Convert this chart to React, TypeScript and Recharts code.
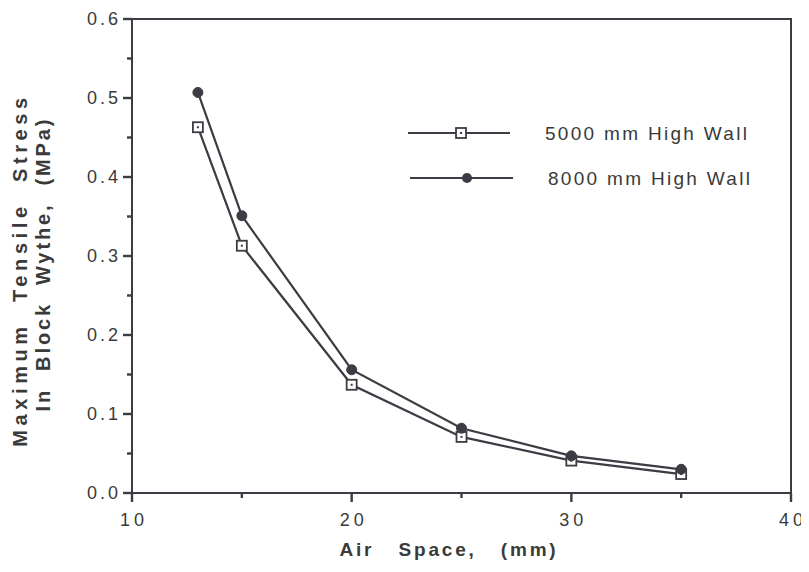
import React from "react";
import { LineChart, Line, XAxis, YAxis, ReferenceArea } from "recharts";

const airSpace = [13, 15, 20, 25, 30, 35];
const stress5000 = [0.463, 0.313, 0.137, 0.071, 0.041, 0.024];
const stress8000 = [0.507, 0.351, 0.156, 0.082, 0.047, 0.03];
const xTicks = [10, 15, 20, 25, 30, 35, 40];
const xMajor = [10, 20, 30, 40];
const yTicks = [0, 0.05, 0.1, 0.15, 0.2, 0.25, 0.3, 0.35, 0.4, 0.45, 0.5, 0.55, 0.6];
const yMajor = [0, 0.1, 0.2, 0.3, 0.4, 0.5, 0.6];
const seriesNames = ["5000 mm High Wall", "8000 mm High Wall"];

const data = airSpace.map((x, i) => ({ x, a: stress5000[i], b: stress8000[i] }));

const INK = "#3c3c44";
const TXT = "#3a3a3a";
const FONT = "'Liberation Sans', Arial, Helvetica, sans-serif";

const isMajor = (arr: number[], v: number) => arr.some((m) => Math.abs(m - v) < 1e-6);

const XTick = (props: any) => {
  const { x, y, payload } = props;
  const nx = Number(x);
  const ny = Number(y);
  const major = isMajor(xMajor, payload.value);
  const len = major ? 9 : 5;
  return (
    <g>
      <rect x={nx - 1.2} y={ny} width={2.4} height={len} fill={INK} />
      {major && (
        <text x={nx + 2} y={ny + 33} textAnchor="middle" fontSize={18} letterSpacing={4} fill={TXT} fontFamily={FONT}>
          {String(payload.value)}
        </text>
      )}
    </g>
  );
};

const YTick = (props: any) => {
  const { x, y, payload } = props;
  const nx = Number(x);
  const ny = Number(y);
  const major = isMajor(yMajor, payload.value);
  const len = major ? 9 : 5;
  return (
    <g>
      <rect x={nx - len} y={ny - 1.2} width={len} height={2.4} fill={INK} />
      {major && (
        <text x={nx - 11} y={ny + 6} textAnchor="end" fontSize={18} letterSpacing={3} fill={TXT} fontFamily={FONT}>
          {Number(payload.value).toFixed(1)}
        </text>
      )}
    </g>
  );
};

const SquareDot = (props: any) => {
  const { cx, cy } = props;
  if (cx == null || cy == null) return null;
  return (
    <g>
      <rect x={cx - 5} y={cy - 5} width={10} height={10} fill="#fff" stroke={INK} strokeWidth={1.8} />
      <rect x={cx - 1} y={cy - 1} width={2} height={2} fill={INK} />
    </g>
  );
};

const FilledDot = (props: any) => {
  const { cx, cy } = props;
  if (cx == null || cy == null) return null;
  return <circle cx={cx} cy={cy} r={5} fill={INK} stroke={INK} />;
};

const titleStyle: React.CSSProperties = { whiteSpace: "pre" };

export default function App() {
  return (
    <div style={{ position: "relative", width: 801, height: 564 }}>
      <LineChart width={801} height={564} data={data} margin={{ top: 11, right: 18, left: 64, bottom: 34 }}>
        <XAxis
          dataKey="x"
          type="number"
          domain={[10, 40]}
          ticks={xTicks}
          interval={0}
          height={45}
          tickSize={0}
          tickMargin={0}
          tickLine={false}
          axisLine={{ stroke: INK, strokeWidth: 2 }}
          tick={<XTick />}
        />
        <YAxis
          type="number"
          domain={[0, 0.6]}
          ticks={yTicks}
          interval={0}
          width={60}
          tickSize={0}
          tickMargin={0}
          tickLine={false}
          axisLine={{ stroke: INK, strokeWidth: 2 }}
          tick={<YTick />}
        />
        <ReferenceArea x1={10} x2={40} y1={0} y2={0.6} fill="none" stroke={INK} strokeWidth={2} ifOverflow="visible" />
        <Line type="linear" dataKey="a" name={seriesNames[0]} stroke={INK} strokeWidth={2.2} dot={<SquareDot />} isAnimationActive={false} />
        <Line type="linear" dataKey="b" name={seriesNames[1]} stroke={INK} strokeWidth={2.2} dot={<FilledDot />} isAnimationActive={false} />
      </LineChart>
      <svg width={801} height={564} style={{ position: "absolute", left: 0, top: 0, pointerEvents: "none" }}>
        <text x={12} y={262} transform="rotate(-90 12 262)" textAnchor="middle" dominantBaseline="central" fontSize={20} fontWeight="bold" letterSpacing={4.6} fill={TXT} fontFamily={FONT} style={titleStyle}>
          {"Maximum  Tensile  Stress"}
        </text>
        <text x={35} y={256} transform="rotate(-90 35 256)" textAnchor="middle" dominantBaseline="central" fontSize={20} fontWeight="bold" letterSpacing={2.9} fill={TXT} fontFamily={FONT} style={titleStyle}>
          {"In  Block  Wythe,  (MPa)"}
        </text>
        <text x={441} y={541} textAnchor="middle" dominantBaseline="central" fontSize={19} fontWeight="bold" letterSpacing={2.8} fill={TXT} fontFamily={FONT} style={titleStyle}>
          {"Air   Space,   (mm)"}
        </text>
        <line x1={400} x2={502} y1={125} y2={125} stroke={INK} strokeWidth={2} />
        <rect x={448} y={120} width={10} height={10} fill="#fff" stroke={INK} strokeWidth={1.8} />
        <rect x={452} y={124} width={2} height={2} fill={INK} />
        <text x={537} y={125} dominantBaseline="central" fontSize={19} letterSpacing={2.3} fill={TXT} fontFamily={FONT}>
          {seriesNames[0]}
        </text>
        <line x1={402} x2={505} y1={170} y2={170} stroke={INK} strokeWidth={2} />
        <circle cx={459} cy={170} r={5} fill={INK} />
        <text x={540} y={170} dominantBaseline="central" fontSize={19} letterSpacing={2.3} fill={TXT} fontFamily={FONT}>
          {seriesNames[1]}
        </text>
      </svg>
    </div>
  );
}
